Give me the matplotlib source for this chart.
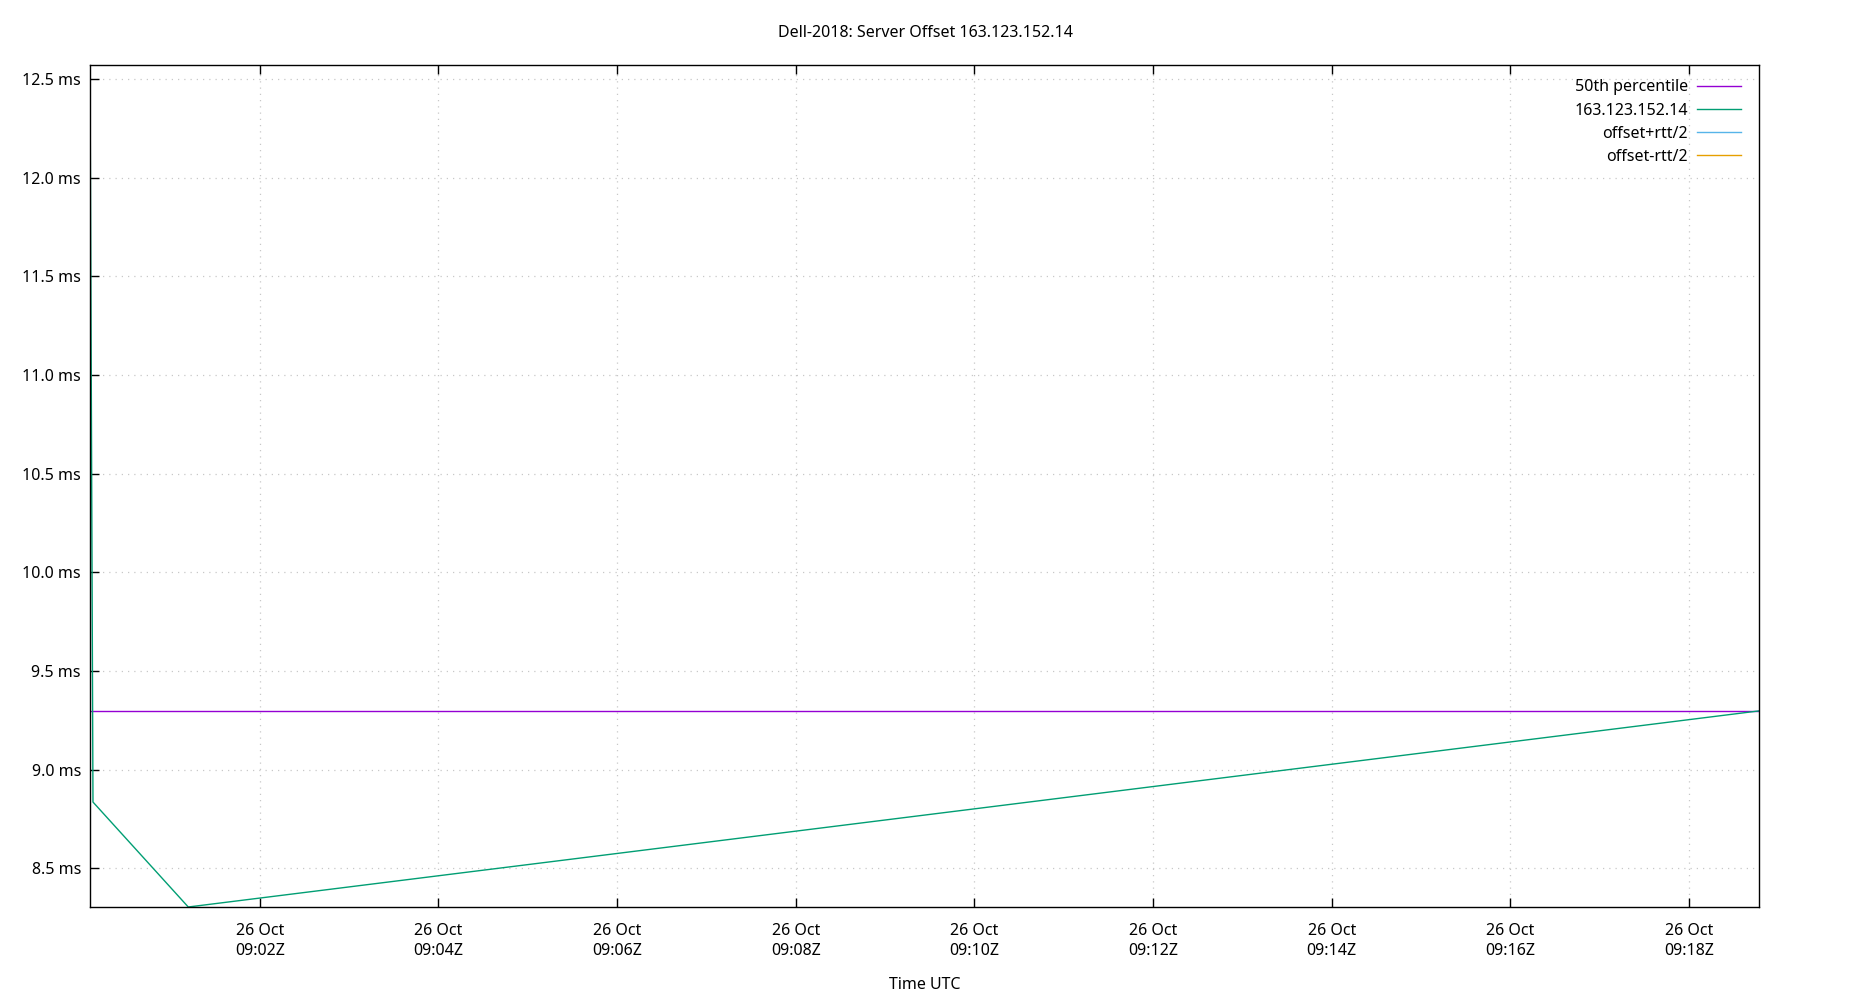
import matplotlib
matplotlib.use("Agg")
import matplotlib.pyplot as plt
import matplotlib.dates as mdates
from matplotlib.ticker import FuncFormatter
import numpy as np

plt.rcParams["font.family"] = ["Noto Sans", "DejaVu Sans"]
plt.rcParams["font.size"] = 11.5

# data
times = np.array(["2018-10-26T09:00:06", "2018-10-26T09:00:08",
                  "2018-10-26T09:01:12", "2018-10-26T09:18:47"], dtype="datetime64[s]")
offset_ms = [12.572, 8.836, 8.304, 9.298]
p50_ms = 9.298
title = "Dell-2018: Server Offset 163.123.152.14"
labels = ["50th percentile", "163.123.152.14", "offset+rtt/2", "offset-rtt/2"]
colors = ["#9400d3", "#009e73", "#56b4e9", "#e69f00"]

t = times.astype("O")

fig = plt.figure(figsize=(18.5, 10), dpi=100)
ax = fig.add_axes([90 / 1850, 93 / 1000, 1669 / 1850, 842 / 1000])

l50, = ax.plot([t[0], t[-1]], [p50_ms, p50_ms], color=colors[0], lw=1.0)
loff, = ax.plot(t, offset_ms, color=colors[1], lw=1.0)
lup, = ax.plot([], [], color=colors[2], lw=1.0)
llo, = ax.plot([], [], color=colors[3], lw=1.0)

ax.set_xlim(t[0], t[-1])
ax.set_ylim(min(offset_ms), max(offset_ms))

ax.xaxis.set_major_locator(mdates.MinuteLocator(byminute=range(0, 60, 2)))
ax.xaxis.set_major_formatter(mdates.DateFormatter("%d %b\n%H:%MZ"))
ax.yaxis.set_major_locator(matplotlib.ticker.MultipleLocator(0.5))
ax.yaxis.set_major_formatter(FuncFormatter(lambda v, p: f"{v:.1f} ms"))

ax.tick_params(axis="x", direction="in", length=6.5, width=1.0, top=True, pad=11.5)
ax.tick_params(axis="y", direction="in", length=6.5, width=1.0, right=False, pad=6.5)
for lab in ax.get_xticklabels():
    lab.set_linespacing(1.3)
for sp in ax.spines.values():
    sp.set_linewidth(1.0)

ax.grid(True, color="#c8c8c8", linestyle=(0, (1, 4)), linewidth=0.9)
ax.set_axisbelow(True)

fig.text(0.5, 1 - 33 / 1000, title, ha="center", va="center")
fig.text(0.5, 1 - 985 / 1000, "Time UTC", ha="center", va="center")

ax.legend([l50, loff, lup, llo], labels, loc="upper right", frameon=False,
          markerfirst=False, handlelength=2.8, handletextpad=0.55,
          labelspacing=0.45, borderaxespad=0.5, bbox_to_anchor=(0.998, 1.0))

fig.savefig("out.png", dpi=100)
